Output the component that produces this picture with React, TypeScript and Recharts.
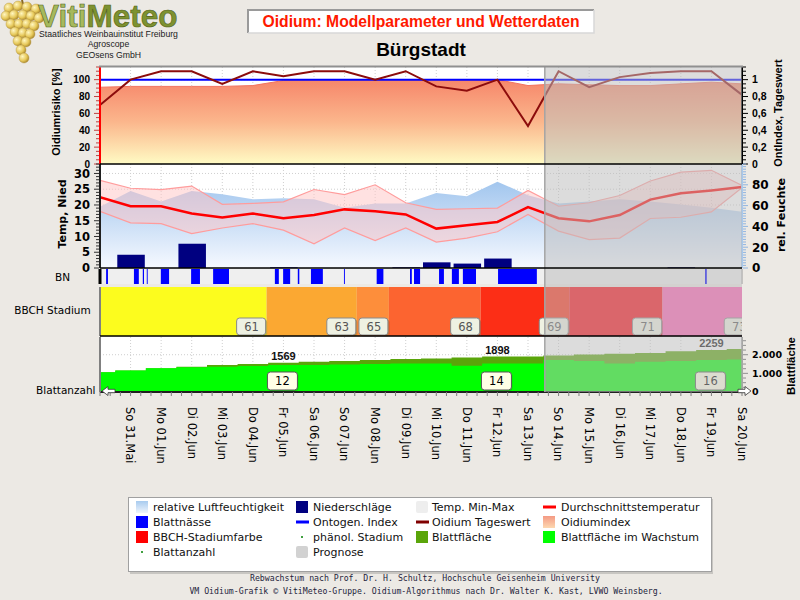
import React from "react";
import {
  ComposedChart,
  Area,
  Line,
  Bar,
  XAxis,
  YAxis,
  CartesianGrid,
  ReferenceArea,
  ReferenceLine,
  Scatter,
} from "recharts";

// ---------------- data ----------------
const dayIndex = [-1, 0, 1, 2, 3, 4, 5, 6, 7, 8, 9, 10, 11, 12, 13, 14, 15, 16, 17, 18, 19, 20];
const dayLabels = [
  "Sa 30.Mai", "So 31.Mai", "Mo 01.Jun", "Di 02.Jun", "Mi 03.Jun", "Do 04.Jun", "Fr 05.Jun",
  "Sa 06.Jun", "So 07.Jun", "Mo 08.Jun", "Di 09.Jun", "Mi 10.Jun", "Do 11.Jun", "Fr 12.Jun",
  "Sa 13.Jun", "So 14.Jun", "Mo 15.Jun", "Di 16.Jun", "Mi 17.Jun", "Do 18.Jun", "Fr 19.Jun", "Sa 20.Jun",
];
const oidiumIndex = [91, 92, 92, 92, 92, 93, 99, 100, 100, 100, 100, 100, 100, 100, 93, 95, 94, 93, 93, 95, 97, 95];
const oidiumDaily = [0.7, 1.0, 1.1, 1.1, 0.95, 1.1, 1.04, 1.1, 1.1, 1.0, 1.1, 0.92, 0.87, 1.0, 0.45, 1.1, 0.91, 1.03, 1.08, 1.1, 1.1, 0.82];
const ontIndex = [1, 1, 1, 1, 1, 1, 1, 1, 1, 1, 1, 1, 1, 1, 1, 1, 1, 1, 1, 1, 1, 1];
const humidity = [59, 74, 64, 74, 71, 66, 67, 66, 58, 62, 62, 72, 69, 83, 70, 62, 64, 66, 64, 61, 58, 54];
const tempMean = [22.5, 19.6, 19.6, 17.3, 16.0, 17.3, 15.8, 16.8, 18.6, 18.0, 17.0, 12.5, 13.6, 14.6, 19.3, 15.8, 14.8, 16.8, 21.7, 23.7, 24.6, 25.7];
const tempMax = [27.8, 25.3, 24.9, 26.0, 20.2, 20.5, 21.0, 24.9, 23.3, 26.4, 20.7, 18.6, 18.8, 19.0, 24.6, 19.6, 20.7, 23.0, 27.6, 30.4, 31.0, 26.2];
const tempMin = [18.0, 14.3, 14.1, 10.9, 12.7, 14.1, 12.0, 7.7, 12.7, 8.7, 12.7, 8.2, 9.5, 11.5, 17.0, 11.7, 9.0, 9.5, 15.7, 16.1, 17.8, 25.5];
const precip = [0, 4.2, 0, 7.7, 0, 0, 0.2, 0, 0, 0, 0.2, 1.8, 1.4, 3.0, 0, 0, 0, 0, 0, 0.3, 0, 0];
const leafWetStart = [-0.8, 0.11, 0.4, 0.53, 0.99, 1.98, 2.7, 4.72, 4.99, 5.47, 5.9, 6.98, 8.05, 9.14, 9.27, 10.09, 10.51, 10.87, 12.02, 18.79];
const leafWetEnd = [-0.74, 0.27, 0.44, 0.56, 1.26, 2.27, 3.22, 4.85, 5.22, 5.52, 6.29, 7.01, 8.27, 9.2, 9.47, 10.25, 10.74, 11.3, 13.29, 18.85];
const bbchCode = ["61", "63", "65", "68", "69", "71", "73"];
const bbchStart = [-1, 4.45, 7.4, 8.45, 11.45, 14.35, 17.4];
const bbchEnd = [4.45, 7.4, 8.45, 11.45, 14.35, 17.4, 20.4];
const bbchColor = ["#fcfc1e", "#fba832", "#fd8e3b", "#fc6430", "#fc2e16", "#fa0a14", "#ff60b4"];
const leafArea = [1059, 1148, 1269, 1359, 1448, 1500, 1569, 1622, 1658, 1711, 1764, 1795, 1848, 1898, 1910, 1960, 2010, 2045, 2095, 2180, 2259, 2310];
const leafGrowing = [1059, 1148, 1269, 1330, 1359, 1395, 1448, 1448, 1480, 1500, 1532, 1532, 1411, 1532, 1532, 1711, 1658, 1532, 1622, 1658, 1711, 1743];
const markDays = [5, 12, 19];
const markLeafArea = [1569, 1898, 2259];
const markLeafCount = [12, 14, 16];
const prognoseStart = 13.55;
const prognoseEnd = 20;

// ---------------- layout constants ----------------
const W = 800;
const LEFT = 100;
const RIGHT = 742;
const XDOMAIN: [number, number] = [-1, 20];
const DJV = "'DejaVu Sans', sans-serif";
const LIB = "'Liberation Sans', Arial, sans-serif";
const MONO = "'DejaVu Sans Mono', monospace";

const rows = dayIndex.map((d, i) => ({
  d,
  oidium: oidiumIndex[i],
  daily: oidiumDaily[i],
  ont: ontIndex[i],
  hum: humidity[i],
  tmean: tempMean[i],
  tmax: tempMax[i],
  tmin: tempMin[i],
  band: [tempMin[i], tempMax[i]],
  rain: precip[i],
  leaf: leafArea[i],
  grow: leafGrowing[i],
}));
// leaf wetness as a 0/1 step series built from the start/end arrays
const wetRows: { d: number; w: number }[] = [{ d: XDOMAIN[0], w: 0 }];
leafWetStart.forEach((s, i) => {
  wetRows.push({ d: s, w: 1 });
  wetRows.push({ d: leafWetEnd[i], w: 0 });
});
wetRows.push({ d: XDOMAIN[1], w: 0 });

const bbchRows = bbchEnd.map((e, i) => ({ d: e, y: 0, code: bbchCode[i] }));
const markRows = markDays.map((d, i) => ({ d, area: markLeafArea[i], zero: 0, count: markLeafCount[i] }));

const dayTicks = dayIndex.filter((d) => d >= 0);
const range = (a: number, b: number, s: number) => {
  const out: number[] = [];
  for (let k = 0; a + k * s <= b + 1e-9; k++) out.push(Math.round((a + k * s) * 1000) / 1000);
  return out;
};
const xMinorTicks = range(-1, 20, 1 / 3);

type TickOpts = {
  side: "left" | "right";
  labels: number[];
  fmt: (v: number) => string;
  font: string;
  size: number;
  lineColor: string;
};
const makeYTick = (o: TickOpts) => (props: any) => {
  const { y, payload } = props;
  const v = payload.value as number;
  const isLabel = o.labels.some((l) => Math.abs(l - v) < 1e-6);
  const ax = o.side === "left" ? LEFT - 1 : RIGHT + 1;
  const dir = o.side === "left" ? -1 : 1;
  const len = isLabel ? 5 : 3;
  return (
    <g>
      <line x1={ax} x2={ax + dir * len} y1={y} y2={y} stroke={o.lineColor} strokeWidth={1} />
      {isLabel && (
        <text
          x={ax + dir * 9}
          y={y}
          dy="0.36em"
          textAnchor={o.side === "left" ? "end" : "start"}
          fontFamily={o.font}
          fontSize={o.size}
          fontWeight="bold"
          fill="#000"
        >
          {o.fmt(v)}
        </text>
      )}
    </g>
  );
};

const topLeftTick = makeYTick({ side: "left", labels: [0, 20, 40, 60, 80, 100], fmt: (v) => String(v), font: LIB, size: 10, lineColor: "#c04040" });
const topRightTick = makeYTick({
  side: "right",
  labels: [0, 0.2, 0.4, 0.6, 0.8, 1],
  fmt: (v) => String(Math.round(v * 10) / 10).replace(".", ","),
  font: LIB,
  size: 10.5,
  lineColor: "#000",
});
const tempLeftTick = makeYTick({ side: "left", labels: [0, 5, 10, 15, 20, 25, 30], fmt: (v) => String(v), font: DJV, size: 11.5, lineColor: "#303030" });
const tempRightTick = makeYTick({ side: "right", labels: [0, 20, 40, 60, 80], fmt: (v) => String(v), font: DJV, size: 12, lineColor: "#90b4e0" });
const leafRightTick = makeYTick({
  side: "right",
  labels: [0, 1000, 2000],
  fmt: (v) => (v === 0 ? "0" : (v / 1000).toFixed(3)),
  font: DJV,
  size: 9.5,
  lineColor: "#909090",
});

const XTick = (props: any) => {
  const { x, y, payload } = props;
  const v = payload.value as number;
  const isDay = Math.abs(v - Math.round(v)) < 1e-6;
  const idx = Math.round(v) + 1;
  return (
    <g>
      <line x1={x} x2={x} y1={y} y2={y + 4} stroke="#808080" strokeWidth={1} />
      {isDay && v >= 0 && (
        <text
          x={x}
          y={y + 15}
          dy="0.36em"
          transform={`rotate(90 ${x} ${y + 15})`}
          textAnchor="start"
          fontFamily={DJV}
          fontSize={11.5}
          fill="#000"
        >
          {dayLabels[idx]}
        </text>
      )}
    </g>
  );
};

const BbchLabel = (p: any) => {
  const { cx, cy, payload } = p;
  const w = 30;
  const h = 18;
  const x = cx - w;
  const y = cy - h;
  return (
    <g>
      <rect x={x + 1.5} y={y + 1.5} width={w - 1} height={h - 1} rx={3} fill="#000" fillOpacity={0.2} />
      <rect x={x} y={y} width={w - 1} height={h - 1} rx={3} fill="#eef1e2" stroke="#8a8a8a" strokeWidth={1} />
      <text x={x + w / 2} y={y + h / 2} dy="0.36em" textAnchor="middle" fontFamily={DJV} fontSize={11.5} fill="#555">
        {payload.code}
      </text>
    </g>
  );
};

const LeafAreaLabel = (p: any) => {
  const { cx, cy, payload } = p;
  return (
    <text x={cx} y={cy - 3} textAnchor="middle" fontFamily={LIB} fontWeight="bold" fontSize={11} fill="#111">
      {payload.area}
    </text>
  );
};

const LeafCountBox = (p: any) => {
  const { cx, cy, payload } = p;
  const x = cx - 16;
  const y = cy - 20;
  return (
    <g>
      <rect x={x + 1} y={y + 1} width={30} height={18} rx={3} fill="#000" fillOpacity={0.15} />
      <rect x={x} y={y} width={30} height={18} rx={3} fill="#ffffe6" stroke="#555" strokeWidth={1} />
      <text x={x + 15} y={y + 9} dy="0.36em" textAnchor="middle" fontFamily={DJV} fontSize={11.5} fill="#000">
        {payload.count}
      </text>
    </g>
  );
};

const margins = { top: 10, bottom: 10, left: 40, right: 8 };

function PanelOidium() {
  return (
    <ComposedChart width={W} height={117} data={rows} margin={margins}>
      <defs>
        <linearGradient id="gOid" x1="0" y1="0" x2="0" y2="1">
          <stop offset="0" stopColor="#f6866a" />
          <stop offset="0.5" stopColor="#fbb68c" />
          <stop offset="1" stopColor="#fffbc4" />
        </linearGradient>
      </defs>
      <CartesianGrid
        fill="#fff"
        stroke="#cfcfcf"
        strokeDasharray="1 2"
        yAxisId="l"
        horizontalValues={[20, 40, 60, 80, 100]}
        verticalValues={dayTicks}
      />
      <XAxis type="number" dataKey="d" domain={XDOMAIN} ticks={dayTicks} hide allowDataOverflow />
      <YAxis
        yAxisId="l"
        orientation="left"
        width={60}
        domain={[0, 115]}
        ticks={range(0, 115, 5)}
        interval={0}
        tickSize={0}
        tickMargin={0}
        tickLine={false}
        axisLine={{ stroke: "#ff0000", strokeWidth: 2 }}
        tick={topLeftTick}
        allowDataOverflow
      />
      <YAxis
        yAxisId="r"
        orientation="right"
        width={50}
        domain={[0, 1.15]}
        ticks={range(0, 1.15, 0.05)}
        interval={0}
        tickSize={0}
        tickMargin={0}
        tickLine={false}
        axisLine={{ stroke: "#000", strokeWidth: 2 }}
        tick={topRightTick}
        allowDataOverflow
      />
      <Area yAxisId="l" dataKey="oidium" type="linear" fill="url(#gOid)" fillOpacity={1} stroke="#f27461" strokeWidth={1} isAnimationActive={false} />
      <Line yAxisId="r" dataKey="ont" stroke="#0000ff" strokeWidth={2} dot={false} isAnimationActive={false} />
      <Line yAxisId="r" dataKey="daily" stroke="#8c0c0c" strokeWidth={2} dot={false} isAnimationActive={false} />
    </ComposedChart>
  );
}

function PanelTemp() {
  return (
    <ComposedChart width={W} height={124} data={rows} margin={margins}>
      <defs>
        <linearGradient id="gHum" x1="0" y1="0" x2="0" y2="1">
          <stop offset="0" stopColor="#a2c6ee" />
          <stop offset="1" stopColor="#f6f9ff" />
        </linearGradient>
      </defs>
      <CartesianGrid
        fill="#fff"
        stroke="#cfcfcf"
        strokeDasharray="1 2"
        yAxisId="l"
        horizontalValues={[5, 10, 15, 20, 25, 30]}
        verticalValues={dayTicks}
      />
      <XAxis type="number" dataKey="d" domain={XDOMAIN} ticks={dayTicks} hide allowDataOverflow />
      <YAxis
        yAxisId="l"
        orientation="left"
        width={60}
        domain={[0, 33]}
        ticks={range(0, 33, 1)}
        interval={0}
        tickSize={0}
        tickMargin={0}
        tickLine={false}
        axisLine={{ stroke: "#202020", strokeWidth: 2 }}
        tick={tempLeftTick}
        allowDataOverflow
      />
      <YAxis
        yAxisId="r"
        orientation="right"
        width={50}
        domain={[0, 100]}
        ticks={range(0, 100, 2.5)}
        interval={0}
        tickSize={0}
        tickMargin={0}
        tickLine={false}
        axisLine={{ stroke: "#a8c8ec", strokeWidth: 2 }}
        tick={tempRightTick}
        allowDataOverflow
      />
      <Area yAxisId="r" dataKey="hum" type="linear" fill="url(#gHum)" fillOpacity={1} stroke="none" isAnimationActive={false} />
      <Area yAxisId="l" dataKey="band" type="linear" fill="#ffc4c4" fillOpacity={0.5} stroke="none" isAnimationActive={false} />
      <Line yAxisId="l" dataKey="tmax" stroke="#ff9c9c" strokeWidth={1.2} dot={false} isAnimationActive={false} />
      <Line yAxisId="l" dataKey="tmin" stroke="#ff9c9c" strokeWidth={1.2} dot={false} isAnimationActive={false} />
      <Bar yAxisId="l" dataKey="rain" fill="#000080" barSize={31} isAnimationActive={false} />
      <Line yAxisId="l" dataKey="tmean" stroke="#ff0000" strokeWidth={2.5} dot={false} isAnimationActive={false} />
    </ComposedChart>
  );
}

function PanelBN() {
  return (
    <ComposedChart width={W} height={35} data={wetRows} margin={margins}>
      <CartesianGrid fill="#efefef" stroke="none" yAxisId="l" />
      <XAxis type="number" dataKey="d" domain={XDOMAIN} hide allowDataOverflow />
      <YAxis yAxisId="l" width={60} domain={[0, 1]} tick={false} tickLine={false} axisLine={{ stroke: "#000", strokeWidth: 3 }} />
      <YAxis yAxisId="r" orientation="right" width={50} domain={[0, 1]} tick={false} tickLine={false} axisLine={{ stroke: "#999", strokeWidth: 1 }} />
      <Area
        yAxisId="l"
        dataKey="w"
        type="stepAfter"
        fill="#0000ff"
        fillOpacity={1}
        stroke="none"
        isAnimationActive={false}
      />
    </ComposedChart>
  );
}

function PanelBBCH() {
  return (
    <ComposedChart width={W} height={69} data={rows} margin={margins}>
      <XAxis type="number" dataKey="d" domain={XDOMAIN} hide allowDataOverflow />
      <YAxis yAxisId="l" width={60} domain={[0, 1]} tick={false} tickLine={false} axisLine={{ stroke: "#808080", strokeWidth: 2 }} />
      <YAxis yAxisId="r" orientation="right" width={50} domain={[0, 1]} tick={false} tickLine={false} axisLine={false} />
      {bbchStart.map((s, i) => (
        <ReferenceArea
          key={i}
          yAxisId="l"
          x1={s}
          x2={bbchEnd[i]}
          fill={bbchColor[i]}
          fillOpacity={1}
          stroke="none"
          ifOverflow="hidden"
        />
      ))}
      <Scatter yAxisId="l" data={bbchRows} dataKey="y" shape={BbchLabel} isAnimationActive={false} />
    </ComposedChart>
  );
}

function PanelLeaf() {
  return (
    <ComposedChart width={W} height={157} data={rows} margin={{ top: 10, bottom: 2, left: 40, right: 8 }}>
      <CartesianGrid
        fill="#fff"
        stroke="#cfcfcf"
        strokeDasharray="1 2"
        yAxisId="r"
        horizontalValues={[2000]}
        verticalValues={dayTicks}
      />
      <XAxis
        type="number"
        dataKey="d"
        domain={XDOMAIN}
        ticks={xMinorTicks}
        interval={0}
        height={90}
        tickSize={0}
        tickMargin={0}
        tickLine={false}
        tick={XTick}
        axisLine={{ stroke: "#202020", strokeWidth: 2 }}
        allowDataOverflow
      />
      <YAxis yAxisId="l" width={60} domain={[0, 1]} tick={false} tickLine={false} axisLine={{ stroke: "#808080", strokeWidth: 2 }} />
      <YAxis
        yAxisId="r"
        orientation="right"
        width={50}
        domain={[0, 2950]}
        ticks={range(0, 2950, 250)}
        interval={0}
        tickSize={0}
        tickMargin={0}
        tickLine={false}
        axisLine={{ stroke: "#909090", strokeWidth: 1.5 }}
        tick={leafRightTick}
        allowDataOverflow
      />
      <Area yAxisId="r" dataKey="leaf" type="step" fill="#5aa50a" fillOpacity={1} stroke="none" isAnimationActive={false} />
      <Area yAxisId="r" dataKey="grow" type="step" fill="#00ff00" fillOpacity={1} stroke="none" isAnimationActive={false} />
      <Scatter yAxisId="r" data={markRows} dataKey="area" shape={LeafAreaLabel} isAnimationActive={false} />
      <Scatter yAxisId="r" data={markRows} dataKey="zero" shape={LeafCountBox} isAnimationActive={false} />
    </ComposedChart>
  );
}

function PrognoseOverlay() {
  return (
    <ComposedChart width={W} height={345} data={rows} margin={{ top: 10, bottom: 10, left: LEFT, right: W - RIGHT }}>
      <XAxis type="number" dataKey="d" domain={XDOMAIN} hide allowDataOverflow />
      <YAxis yAxisId="o" domain={[0, 1]} hide allowDataOverflow />
      <ReferenceArea
        yAxisId="o"
        x1={prognoseStart}
        x2={prognoseEnd}
        y1={0}
        y2={1}
        fill="#bcbcbc"
        fillOpacity={0.52}
        stroke="none"
        ifOverflow="visible"
      />
      <ReferenceLine yAxisId="o" x={prognoseStart} stroke="#a4a4a4" strokeWidth={1.5} ifOverflow="visible" />
    </ComposedChart>
  );
}

const legendItems = [
  { label: "relative Luftfeuchtigkeit", icon: "humid", color: "" },
  { label: "Niederschläge", icon: "sq", color: "#000080" },
  { label: "Temp. Min-Max", icon: "soft", color: "#eeeeee" },
  { label: "Durchschnittstemperatur", icon: "line", color: "#ff0000" },
  { label: "Blattnässe", icon: "sq", color: "#0000ff" },
  { label: "Ontogen. Index", icon: "line", color: "#0000ff" },
  { label: "Oidium Tageswert", icon: "line", color: "#800000" },
  { label: "Oidiumindex", icon: "oid", color: "" },
  { label: "BBCH-Stadiumfarbe", icon: "sq", color: "#ff0000" },
  { label: "phänol. Stadium", icon: "dot", color: "#40a040" },
  { label: "Blattfläche", icon: "sq", color: "#5aa50a" },
  { label: "Blattfläche im Wachstum", icon: "sq", color: "#00ff00" },
  { label: "Blattanzahl", icon: "dot", color: "#40a040" },
  { label: "Prognose", icon: "soft", color: "#d2d2d2" },
];
const legendColX = [136, 296, 416, 543];
const legendTextX = [153, 313, 432, 561];
const legendRowY = [507, 522, 537, 552];

const grapes = [
  [9, 8], [18, 6], [27, 7], [36, 9], [6, 16], [14, 15], [23, 15], [31, 16], [39, 18],
  [11, 24], [19, 24], [27, 24], [34, 26], [15, 32], [23, 33], [30, 34], [18, 41], [26, 42], [21, 50], [24, 58],
];

function LegendIcon({ icon, color, x, y }: { icon: string; color: string; x: number; y: number }) {
  if (icon === "line") return <line x1={x} x2={x + 13} y1={y} y2={y} stroke={color} strokeWidth={3} />;
  if (icon === "dot") return <rect x={x + 5} y={y - 1} width={2} height={2} fill={color} />;
  if (icon === "humid") return <rect x={x} y={y - 6} width={12} height={12} fill="url(#lgHum)" />;
  if (icon === "oid") return <rect x={x} y={y - 6} width={12} height={12} fill="url(#lgOid)" />;
  if (icon === "soft") return <rect x={x} y={y - 6} width={12} height={12} rx={2} fill={color} />;
  return <rect x={x} y={y - 6} width={12} height={12} fill={color} />;
}

export default function App() {
  return (
    <div
      style={{
        position: "absolute",
        left: 0,
        top: 0,
        width: 800,
        height: 600,
        background: "#ECE9E4",
        overflow: "hidden",
        fontFamily: DJV,
      }}
    >
      <svg style={{ position: "absolute", left: 0, top: 0 }} width={800} height={600}>
        <defs>
          <radialGradient id="grapeG" cx="0.35" cy="0.35" r="0.7">
            <stop offset="0" stopColor="#fff6c0" />
            <stop offset="0.6" stopColor="#e6c85a" />
            <stop offset="1" stopColor="#a8862a" />
          </radialGradient>
          <linearGradient id="lgHum" x1="0" y1="0" x2="0" y2="1">
            <stop offset="0" stopColor="#a8cbef" />
            <stop offset="1" stopColor="#eef4fc" />
          </linearGradient>
          <linearGradient id="lgOid" x1="0" y1="0" x2="0" y2="1">
            <stop offset="0" stopColor="#f49a84" />
            <stop offset="1" stopColor="#fdd8b0" />
          </linearGradient>
        </defs>
        {/* logo */}
        <path d="M22 0 L24 8" stroke="#8a6a20" strokeWidth={2} />
        {grapes.map(([cx, cy], i) => (
          <circle key={i} cx={cx} cy={cy} r={5} fill="url(#grapeG)" stroke="#b09040" strokeWidth={0.4} />
        ))}
        <text x={38} y={27} fontFamily={LIB} fontWeight="bold" fontSize={31.5} stroke="#4f5f18" strokeWidth={0.6}>
          <tspan fill="#a6b95c">Viti</tspan>
          <tspan fill="#7e9230">Meteo</tspan>
        </text>
        <text x={108.5} y={36.5} textAnchor="middle" fontFamily={LIB} fontSize={8.7} fill="#222">
          Staatliches Weinbauinstitut Freiburg
        </text>
        <text x={108.5} y={47} textAnchor="middle" fontFamily={LIB} fontSize={8.7} fill="#222">
          Agroscope
        </text>
        <text x={108.5} y={57.5} textAnchor="middle" fontFamily={LIB} fontSize={8.7} fill="#222">
          GEOsens GmbH
        </text>
        {/* title box */}
        <rect x={248} y={10} width={346} height={23} fill="#fff" />
        <path d="M248 33 L248 10 L594 10" fill="none" stroke="#9a9a9a" strokeWidth={2} />
        <path d="M248 33 L594 33 L594 10" fill="none" stroke="#d8d8d8" strokeWidth={1.5} />
        <text x={421} y={27} textAnchor="middle" fontFamily={LIB} fontWeight="bold" fontSize={15.7} fill="#ff1a00">
          Oidium: Modellparameter und Wetterdaten
        </text>
        <text x={421} y={55.5} textAnchor="middle" fontFamily={LIB} fontWeight="bold" fontSize={19} fill="#000">
          Bürgstadt
        </text>
        {/* axis titles */}
        <text x={56} y={112} dy="0.35em" textAnchor="middle" transform="rotate(-90 56 112)" fontFamily={LIB} fontWeight="bold" fontSize={11}>
          Oidiumrisiko [%]
        </text>
        <text x={62} y={214} dy="0.35em" textAnchor="middle" transform="rotate(-90 62 214)" fontFamily={DJV} fontWeight="bold" fontSize={11}>
          Temp, Nied
        </text>
        <text x={778} y={113} dy="0.35em" textAnchor="middle" transform="rotate(-90 778 113)" fontFamily={LIB} fontWeight="bold" fontSize={11}>
          OntIndex, Tageswert
        </text>
        <text x={781} y={215} dy="0.35em" textAnchor="middle" transform="rotate(-90 781 215)" fontFamily={DJV} fontWeight="bold" fontSize={11}>
          rel. Feuchte
        </text>
        <text x={791} y={366} dy="0.35em" textAnchor="middle" transform="rotate(-90 791 366)" fontFamily={LIB} fontWeight="bold" fontSize={11.3}>
          Blattfläche
        </text>
        <text x={62.5} y={277.5} dy="0.36em" textAnchor="middle" fontFamily={DJV} fontSize={10.5}>
          BN
        </text>
        <text x={52.5} y={310} dy="0.36em" textAnchor="middle" fontFamily={DJV} fontSize={10.5}>
          BBCH Stadium
        </text>
        <text x={95.5} y={390.5} dy="0.36em" textAnchor="end" fontFamily={DJV} fontSize={10.5}>
          Blattanzahl
        </text>
        {/* legend */}
        <rect x={130} y={499} width={583} height={75} fill="#c8c6c2" />
        <rect x={128.5} y={497.5} width={583} height={74} fill="#fff" stroke="#a0a0a0" />
        {legendItems.map((it, i) => {
          const col = i % 4;
          const row = Math.floor(i / 4);
          return (
            <g key={it.label}>
              <LegendIcon icon={it.icon} color={it.color} x={legendColX[col]} y={legendRowY[row]} />
              <text x={legendTextX[col]} y={legendRowY[row]} dy="0.36em" fontFamily={DJV} fontSize={11} fill="#111">
                {it.label}
              </text>
            </g>
          );
        })}
        {/* footer */}
        <text x={425} y={581} textAnchor="middle" fontFamily={MONO} fontSize={8.2} fill="#1e1e3c">
          Rebwachstum nach Prof. Dr. H. Schultz, Hochschule Geisenheim University
        </text>
        <text x={426} y={594} textAnchor="middle" fontFamily={MONO} fontSize={8.2} fill="#1e1e3c">
          VM Oidium-Grafik © VitiMeteo-Gruppe. Oidium-Algorithmus nach Dr. Walter K. Kast, LVWO Weinsberg.
        </text>
      </svg>

      <div style={{ position: "absolute", left: 0, top: 57 }}>
        <PanelOidium />
      </div>
      <div style={{ position: "absolute", left: 0, top: 154 }}>
        <PanelTemp />
      </div>
      <div style={{ position: "absolute", left: 0, top: 259 }}>
        <PanelBN />
      </div>
      <div style={{ position: "absolute", left: 0, top: 277, width: RIGHT + 1, height: 69, overflow: "hidden" }}>
        <PanelBBCH />
      </div>
      <div style={{ position: "absolute", left: 0, top: 327 }}>
        <PanelLeaf />
      </div>
      <div style={{ position: "absolute", left: 0, top: 57, pointerEvents: "none" }}>
        <PrognoseOverlay />
      </div>

      <svg style={{ position: "absolute", left: 0, top: 0, pointerEvents: "none" }} width={800} height={600}>
        <line x1={99} x2={743} y1={66.5} y2={66.5} stroke="#909090" strokeWidth={2} />
        <line x1={100} x2={742} y1={164} y2={164} stroke="#000" strokeWidth={1.5} />
        <line x1={100} x2={742} y1={268} y2={268} stroke="#000" strokeWidth={1.5} />
        <line x1={100} x2={742} y1={336} y2={336} stroke="#000" strokeWidth={1.5} />
        <polygon points="102,391 108,386.5 108,389.3 115,389.3 115,392.7 108,392.7 108,395.5" fill="#fff" stroke="#333" strokeWidth={0.8} />
        <polygon points="751,391 745,386.5 745,389.3 738,389.3 738,392.7 745,392.7 745,395.5" fill="#fff" stroke="#333" strokeWidth={0.8} />
      </svg>
    </div>
  );
}
